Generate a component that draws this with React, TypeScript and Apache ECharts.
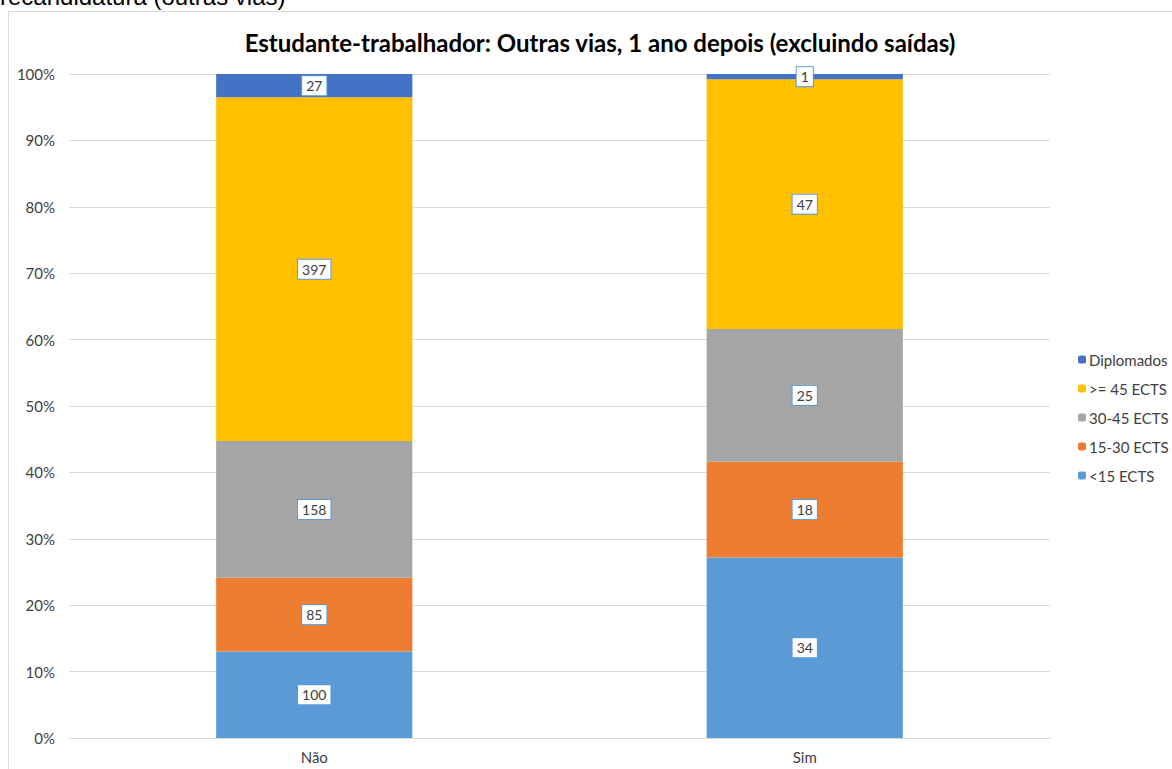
import React, { useEffect, useRef } from "react";
import * as echarts from "echarts";

const categories = ["Não", "Sim"];
const seriesNames = ["<15 ECTS", "15-30 ECTS", "30-45 ECTS", ">= 45 ECTS", "Diplomados"];
const lt15 = [100, 34];
const e15to30 = [85, 18];
const e30to45 = [158, 25];
const ge45 = [397, 47];
const diplomados = [27, 1];
const colors = ["#5B9BD5", "#ED7D31", "#A5A5A5", "#FFC000", "#4472C4"];
const yTicks = [0, 10, 20, 30, 40, 50, 60, 70, 80, 90, 100];

export default function App() {
  const ref = useRef<HTMLDivElement>(null);
  useEffect(() => {
    if (!ref.current) return;
    const chart = echarts.init(ref.current, null, { renderer: "svg" });
    const counts = [lt15, e15to30, e30to45, ge45, diplomados];
    const totals = categories.map((_, i) => counts.reduce((s, a) => s + a[i], 0));
    const font = "Lato, 'Open Sans', sans-serif";
    const series = counts.map((arr, si) => ({
      name: seriesNames[si],
      type: "bar",
      stack: "total",
      barWidth: "40%",
      itemStyle: { color: colors[si] },
      data: arr.map((v, i) => ({ value: v / totals[i], count: v })),
      label: {
        show: true,
        position: "inside",
        formatter: (p: any) => String(p.data.count),
        backgroundColor: "#ffffff",
        borderColor: "#5B9BD5",
        borderWidth: 1,
        padding: [3, 4, 2, 4],
        fontSize: 14,
        fontFamily: font,
        color: "#404040",
      },
    }));
    chart.setOption({
      animation: false,
      title: {
        text: "Estudante-trabalhador: Outras vias, 1 ano depois (excluindo saídas)",
        left: 595,
        top: 25,
        textAlign: "center",
        textStyle: { fontSize: 24, fontWeight: "bold", color: "#000", fontFamily: font },
      },
      graphic: [
        {
          type: "text",
          left: 0,
          top: -16,
          style: {
            text: "recandidatura (outras vias)",
            fontSize: 24,
            fontFamily: "'Liberation Sans', Arial, sans-serif",
            fill: "#000",
          },
        },
        {
          type: "rect",
          shape: { x: 8.5, y: 11.5, width: 1200, height: 800 },
          style: { fill: "none", stroke: "#D9D9D9", lineWidth: 1 },
          silent: true,
        },
      ],
      legend: {
        orient: "vertical",
        left: 1073,
        top: 347,
        itemWidth: 8,
        itemHeight: 8,
        itemGap: 14,
        data: [...seriesNames].reverse(),
        textStyle: { fontSize: 15, color: "#404040", fontFamily: font, padding: [0, 0, 0, -2] },
      },
      grid: { left: 69, right: 122, top: 74, bottom: 31 },
      xAxis: {
        type: "category",
        data: categories,
        axisLine: { show: true, lineStyle: { color: "#D9D9D9" } },
        axisTick: { show: false },
        axisLabel: { fontSize: 15, color: "#404040", fontFamily: font, margin: 11 },
      },
      yAxis: {
        type: "value",
        min: 0,
        max: 1,
        interval: 0.1,
        axisLabel: {
          fontSize: 15,
          color: "#404040",
          fontFamily: font,
          margin: 14,
          formatter: (v: number) => {
            const t = yTicks.find((k) => Math.abs(k / 100 - v) < 1e-6);
            return (t !== undefined ? t : Math.round(v * 100)) + "%";
          },
        },
        splitLine: { lineStyle: { color: "#D9D9D9" } },
      },
      series,
    });
    return () => chart.dispose();
  }, []);
  return (
    <div
      ref={ref}
      style={{ position: "fixed", left: 0, top: 0, width: 1172, height: 769, background: "#fff" }}
    />
  );
}
